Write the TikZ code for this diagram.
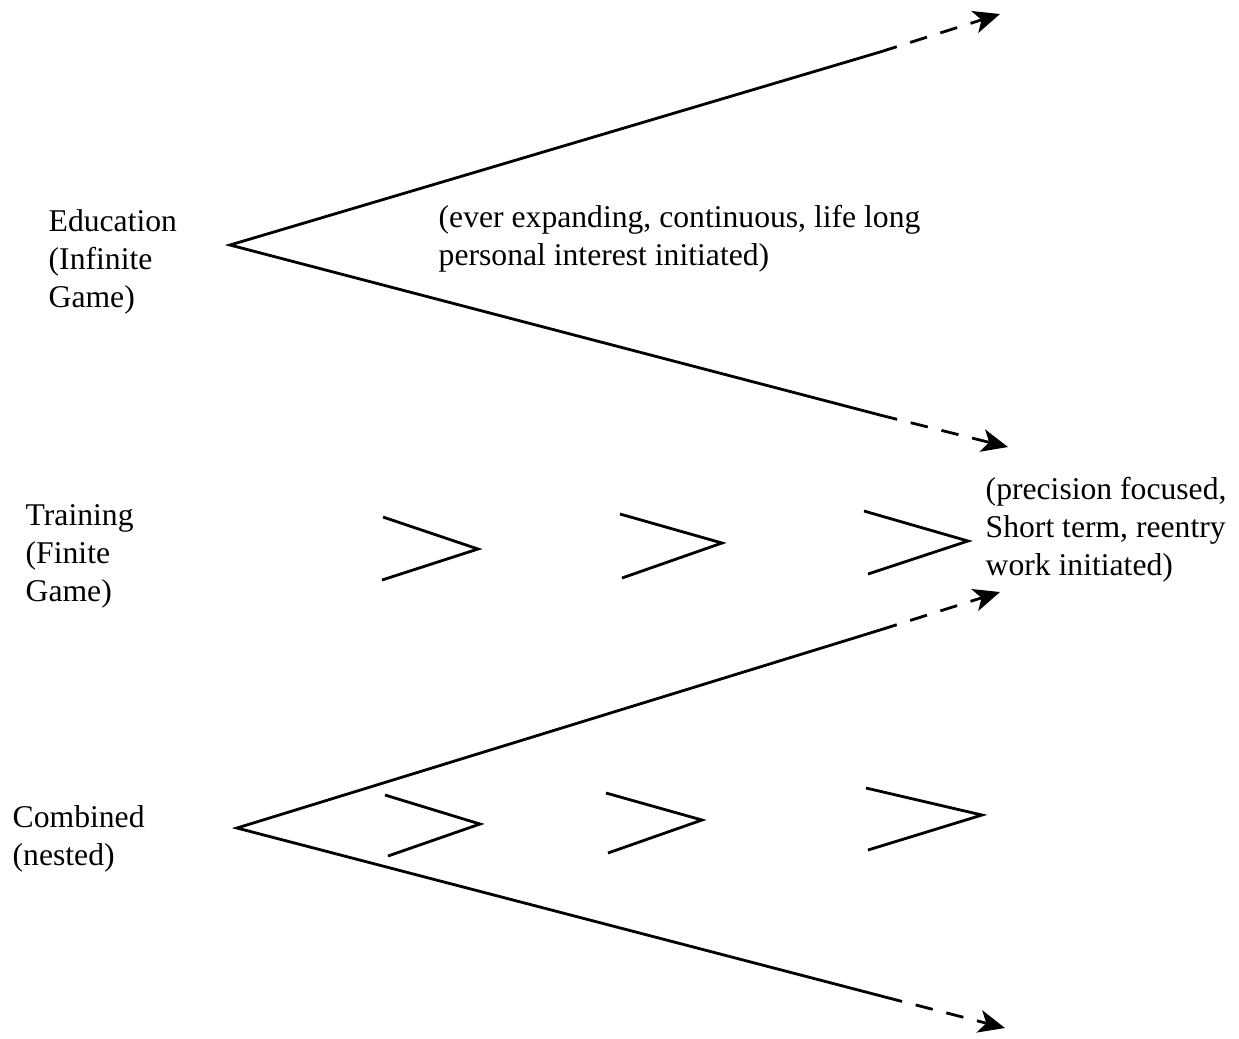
\documentclass[tikz,border=0pt]{standalone}
\usepackage{fontspec}
\setmainfont{Liberation Serif}
\usetikzlibrary{arrows.meta}
\tikzset{
    lbl/.style={anchor=west, align=left, inner sep=0pt, font=\fontsize{9}{10.8}\selectfont},
    ray/.style={line width=0.8pt},
    rayend/.style={line width=0.8pt, dash pattern=on 5pt off 4pt, -{Stealth[length=7.5pt,width=6.5pt,inset=2pt]}},
    chev/.style={line width=0.8pt},
}
\begin{document}
\begin{tikzpicture}[x=0.01cm, y=-0.01cm]
    \useasboundingbox (0,0) rectangle (1239,1038);

    % Education
    \node[lbl] (edu) at (48,262) {Education\\(Infinite\\Game)};
    \node[lbl] (edunote) at (438,239) {(ever expanding, continuous, life long\\personal interest initiated)};
    \coordinate (eduapex) at (230,245);
    \coordinate (eduup) at (880,52);
    \coordinate (eduuptip) at (1000,14);
    \coordinate (edulow) at (880,415);
    \coordinate (edulowtip) at (1008,447);
    \draw[ray] (eduup) -- (eduapex) -- (edulow);
    \draw[rayend] (eduup) -- (eduuptip);
    \draw[rayend] (edulow) -- (edulowtip);

    % Training
    \node[lbl] (train) at (25,556) {Training\\(Finite\\Game)};
    \node[lbl] (trainnote) at (985,530) {(precision focused,\\Short term, reentry\\work initiated)};
    \foreach \a/\b/\c/\d/\e/\f in {383/517/478/549/382/580, 620/514/722/543/622/578, 864/511/968/541/868/574}
        \draw[chev] (\a,\b) -- (\c,\d) -- (\e,\f);

    % Combined
    \node[lbl] (comb) at (12,839) {Combined\\(nested)};
    \coordinate (combapex) at (237,828);
    \coordinate (combup) at (880,630);
    \coordinate (combuptip) at (1000,592);
    \coordinate (comblow) at (885,997);
    \coordinate (comblowtip) at (1005,1028);
    \draw[ray] (combup) -- (combapex) -- (comblow);
    \draw[rayend] (combup) -- (combuptip);
    \draw[rayend] (comblow) -- (comblowtip);
    \foreach \a/\b/\c/\d/\e/\f in {385/795/480/824/388/856, 606/793/702/820/608/853, 866/788/982/815/868/850}
        \draw[chev] (\a,\b) -- (\c,\d) -- (\e,\f);
\end{tikzpicture}
\end{document}
